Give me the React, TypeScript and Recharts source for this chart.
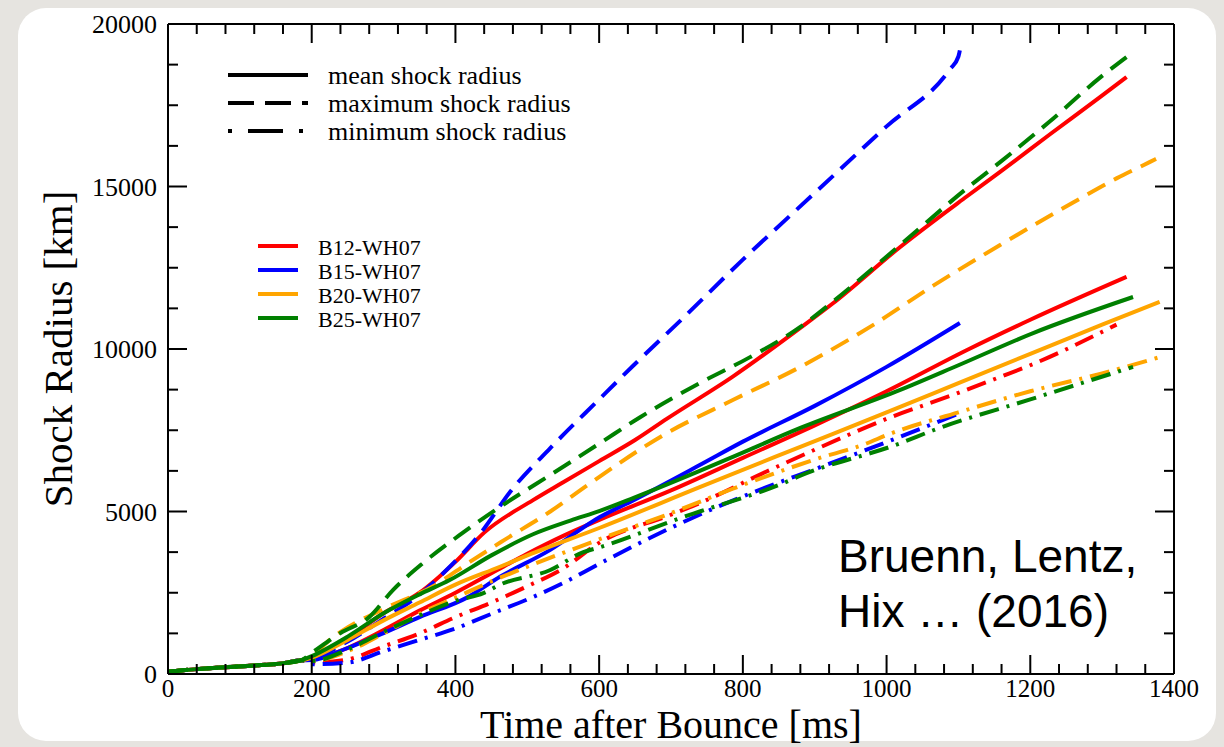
import React from "react";
import { LineChart, Line, XAxis, YAxis, ReferenceLine } from "recharts";

type P = { t: number; r: number };

// shared early phase (all models overlap before ~190 ms)
const EARLY: P[] = [
  { t: 0, r: 70 }, { t: 40, r: 150 }, { t: 80, r: 210 }, { t: 120, r: 260 }, { t: 160, r: 330 }, { t: 185, r: 420 },
];

const mk = (pairs: number[][]): P[] => [...EARLY, ...pairs.map(([t, r]) => ({ t, r }))];

const B12_MAX = mk([[200,520],[250,1100],[300,1870],[350,2500],[400,3450],[440,4350],[508,5350],[550,5900],[600,6550],[650,7200],[694,7850],[786,9150],[880,10650],[925,11400],[1019,13140],[1112,14700],[1158,15450],[1227,16600],[1297,17750],[1334,18370]]);
const B12_MEAN = mk([[200,450],[250,800],[300,1350],[350,1950],[400,2500],[450,3100],[500,3700],[550,4250],[601,4750],[700,5650],[800,6650],[900,7650],[1000,8700],[1112,9970],[1200,10900],[1334,12220]]);
const B12_MIN = mk([[200,350],[250,450],[300,850],[350,1250],[400,1750],[450,2200],[500,2700],[550,3250],[601,4050],[700,4900],[740,5260],[833,6230],[900,6900],[1000,7850],[1100,8650],[1158,9140],[1200,9500],[1320,10750]]);

const B15_MAX = mk([[200,480],[250,1000],[300,1700],[346,2370],[383,3100],[439,4450],[476,5600],[532,6950],[600,8450],[648,9500],[712,10850],[800,12750],[900,14800],[1000,16850],[1088,18600],[1100,19000],[1104,19450]]);
const B15_MEAN = mk([[200,430],[250,800],[300,1260],[350,1750],[416,2350],[462,2990],[532,3820],[601,4830],[648,5350],[740,6430],[800,7150],[900,8250],[1000,9450],[1102,10800]]);
const B15_MIN = mk([[200,300],[250,350],[300,700],[350,1050],[400,1400],[450,1850],[508,2370],[550,2800],[601,3400],[700,4500],[754,5040],[833,5750],[900,6300],[1019,7300],[1102,8030]]);

const B20_MAX = mk([[200,550],[225,1050],[244,1350],[300,2000],[369,2700],[420,3450],[470,4150],[532,5000],[583,5800],[694,7410],[786,8430],[880,9450],[977,10680],[1065,11950],[1158,13200],[1259,14500],[1320,15250],[1366,15750],[1375,15850]]);
const B20_MEAN = mk([[200,500],[250,1050],[300,1650],[350,2200],[400,2750],[462,3300],[500,3650],[601,4500],[740,5750],[880,6990],[1000,8050],[1100,8950],[1200,9850],[1300,10750],[1380,11450]]);
const B20_MIN = mk([[200,400],[250,700],[300,1250],[350,1850],[400,2350],[450,2850],[500,3300],[601,4150],[700,4950],[786,5700],[900,6600],[973,7100],[1000,7350],[1100,8050],[1200,8700],[1300,9250],[1380,9750]]);

const B25_MAX = mk([[200,650],[240,1260],[280,1750],[313,2580],[355,3415],[410,4340],[462,5140],[536,6180],[601,7100],[657,7900],[740,8950],[810,9750],[880,10680],[925,11450],[1019,13200],[1112,14950],[1158,15750],[1227,17000],[1297,18350],[1341,19100]]);
const B25_MEAN = mk([[200,550],[250,1150],[300,1870],[350,2450],[392,2890],[450,3650],[508,4300],[560,4720],[601,5020],[648,5420],[740,6250],[786,6680],[880,7570],[1019,8740],[1100,9500],[1204,10490],[1343,11600]]);
const B25_MIN = mk([[200,400],[250,750],[300,1300],[350,1800],[400,2250],[439,2490],[462,2750],[532,3200],[578,3750],[601,3900],[717,4830],[740,5000],[856,5870],[880,6100],[1019,7100],[1065,7500],[1200,8450],[1343,9450]]);

const X_TICKS = Array.from({ length: 36 }, (_, i) => i * 40);
const Y_TICKS = Array.from({ length: 17 }, (_, i) => i * 1250);
const X_MAX = 1400;
const Y_MAX = 20000;

const MODELS = ["B12-WH07", "B15-WH07", "B20-WH07", "B25-WH07"];
const COLORS = ["#ff0000", "#0000ff", "#ffa500", "#008000"];
const STYLE_LABELS = ["mean shock radius", "maximum shock radius", "minimum shock radius"];

const DASH = "20 10";
const DASHDOT = "20 8 3 8";

// B12 maximum is drawn solid in the original figure
const SERIES = [
  { data: B12_MAX, c: 0, dash: undefined },
  { data: B12_MEAN, c: 0, dash: undefined },
  { data: B12_MIN, c: 0, dash: DASHDOT },
  { data: B15_MAX, c: 1, dash: DASH },
  { data: B15_MEAN, c: 1, dash: undefined },
  { data: B15_MIN, c: 1, dash: DASHDOT },
  { data: B20_MAX, c: 2, dash: DASH },
  { data: B20_MEAN, c: 2, dash: undefined },
  { data: B20_MIN, c: 2, dash: DASHDOT },
  { data: B25_MAX, c: 3, dash: DASH },
  { data: B25_MEAN, c: 3, dash: undefined },
  { data: B25_MIN, c: 3, dash: DASHDOT },
];

const SERIF = '"Liberation Serif", "Times New Roman", serif';
const SANS = '"Liberation Sans", Arial, sans-serif';

// chart layout
const W = 1224, H = 747;
const M = { top: 24, right: 50, bottom: 33, left: 108 };
const XAXIS_H = 40, YAXIS_W = 60;
const PLOT_W = W - M.left - YAXIS_W - M.right;
const PLOT_H = H - M.top - M.bottom - XAXIS_H;

const BottomTick = (p: any) => {
  const v = p.payload.value;
  const major = v % 200 === 0;
  const len = major ? 19 : 10;
  return (
    <g>
      <line x1={p.x} x2={p.x} y1={p.y} y2={p.y - len} stroke="#000" strokeWidth={2} />
      <line x1={p.x} x2={p.x} y1={p.y - PLOT_H} y2={p.y - PLOT_H + len} stroke="#000" strokeWidth={2} />
      {major && (
        <text x={p.x} y={p.y + 23} textAnchor="middle" fontFamily={SERIF} fontSize={25} fill="#000">{v}</text>
      )}
    </g>
  );
};
const LeftTick = (p: any) => {
  const v = p.payload.value;
  const major = v % 5000 === 0;
  const len = major ? 19 : 10;
  return (
    <g>
      <line x1={p.x} x2={p.x + len} y1={p.y} y2={p.y} stroke="#000" strokeWidth={2} />
      <line x1={p.x + PLOT_W} x2={p.x + PLOT_W - len} y1={p.y} y2={p.y} stroke="#000" strokeWidth={2} />
      {major && (
        <text x={p.x - 11} y={p.y + 9} textAnchor="end" fontFamily={SERIF} fontSize={26} fill="#000">{v}</text>
      )}
    </g>
  );
};

export default function App() {
  return (
    <div style={{ position: "absolute", left: 0, top: 0, width: W, height: H, background: "#e6e4e0", overflow: "hidden" }}>
      <div style={{ position: "absolute", left: 18, top: 8, width: 1198, height: 733, background: "#fff", borderRadius: 28 }} />
      <div style={{ position: "absolute", left: 0, top: 0 }}>
        <LineChart width={W} height={H} margin={M}>
          <XAxis type="number" dataKey="t" domain={[0, X_MAX]} ticks={X_TICKS} interval={0} allowDataOverflow
            height={XAXIS_H} tickSize={0} tickMargin={0} tickLine={false} tick={BottomTick}
            axisLine={{ stroke: "#000", strokeWidth: 2 }} />
          <YAxis type="number" dataKey="r" domain={[0, Y_MAX]} ticks={Y_TICKS} interval={0} allowDataOverflow
            width={YAXIS_W} tickSize={0} tickMargin={0} tickLine={false} tick={LeftTick}
            axisLine={{ stroke: "#000", strokeWidth: 2 }} />
          <ReferenceLine y={Y_MAX} stroke="#000" strokeWidth={2} ifOverflow="extendDomain" />
          <ReferenceLine x={X_MAX} stroke="#000" strokeWidth={2} ifOverflow="extendDomain" />
          {SERIES.map((s, i) => (
            <Line key={i} data={s.data} dataKey="r" type="monotone" stroke={COLORS[s.c]} strokeWidth={4}
              strokeDasharray={s.dash} dot={false} activeDot={false} isAnimationActive={false} />
          ))}
        </LineChart>
      </div>
      <svg width={W} height={H} style={{ position: "absolute", left: 0, top: 0, pointerEvents: "none" }}>
        {/* line-style legend */}
        <line x1={228} x2={308} y1={75} y2={75} stroke="#000" strokeWidth={4} />
        <line x1={228} x2={308} y1={103} y2={103} stroke="#000" strokeWidth={4} strokeDasharray="26 11" />
        <line x1={228} x2={308} y1={131} y2={131} stroke="#000" strokeWidth={4} strokeDasharray="4 16 35 16" />
        {STYLE_LABELS.map((s, i) => (
          <text key={s} x={328} y={84 + i * 28} fontFamily={SERIF} fontSize={26} fill="#000">{s}</text>
        ))}
        {/* model legend */}
        {MODELS.map((m, i) => (
          <g key={m}>
            <line x1={258} x2={298} y1={246 + i * 24} y2={246 + i * 24} stroke={COLORS[i]} strokeWidth={4} />
            <text x={318} y={255 + i * 24} fontFamily={SERIF} fontSize={22} fill="#000">{m}</text>
          </g>
        ))}
        <text x={838} y={572} fontFamily={SANS} fontSize={46} fill="#000">Bruenn, Lentz,</text>
        <text x={838} y={627} fontFamily={SANS} fontSize={46} fill="#000">Hix … (2016)</text>
        <text x={671} y={738} textAnchor="middle" fontFamily={SERIF} fontSize={40} fill="#000">Time after Bounce [ms]</text>
        <text x={72} y={349} transform="rotate(-90 72 349)" textAnchor="middle" fontFamily={SERIF} fontSize={41} fill="#000">Shock Radius [km]</text>
      </svg>
    </div>
  );
}
